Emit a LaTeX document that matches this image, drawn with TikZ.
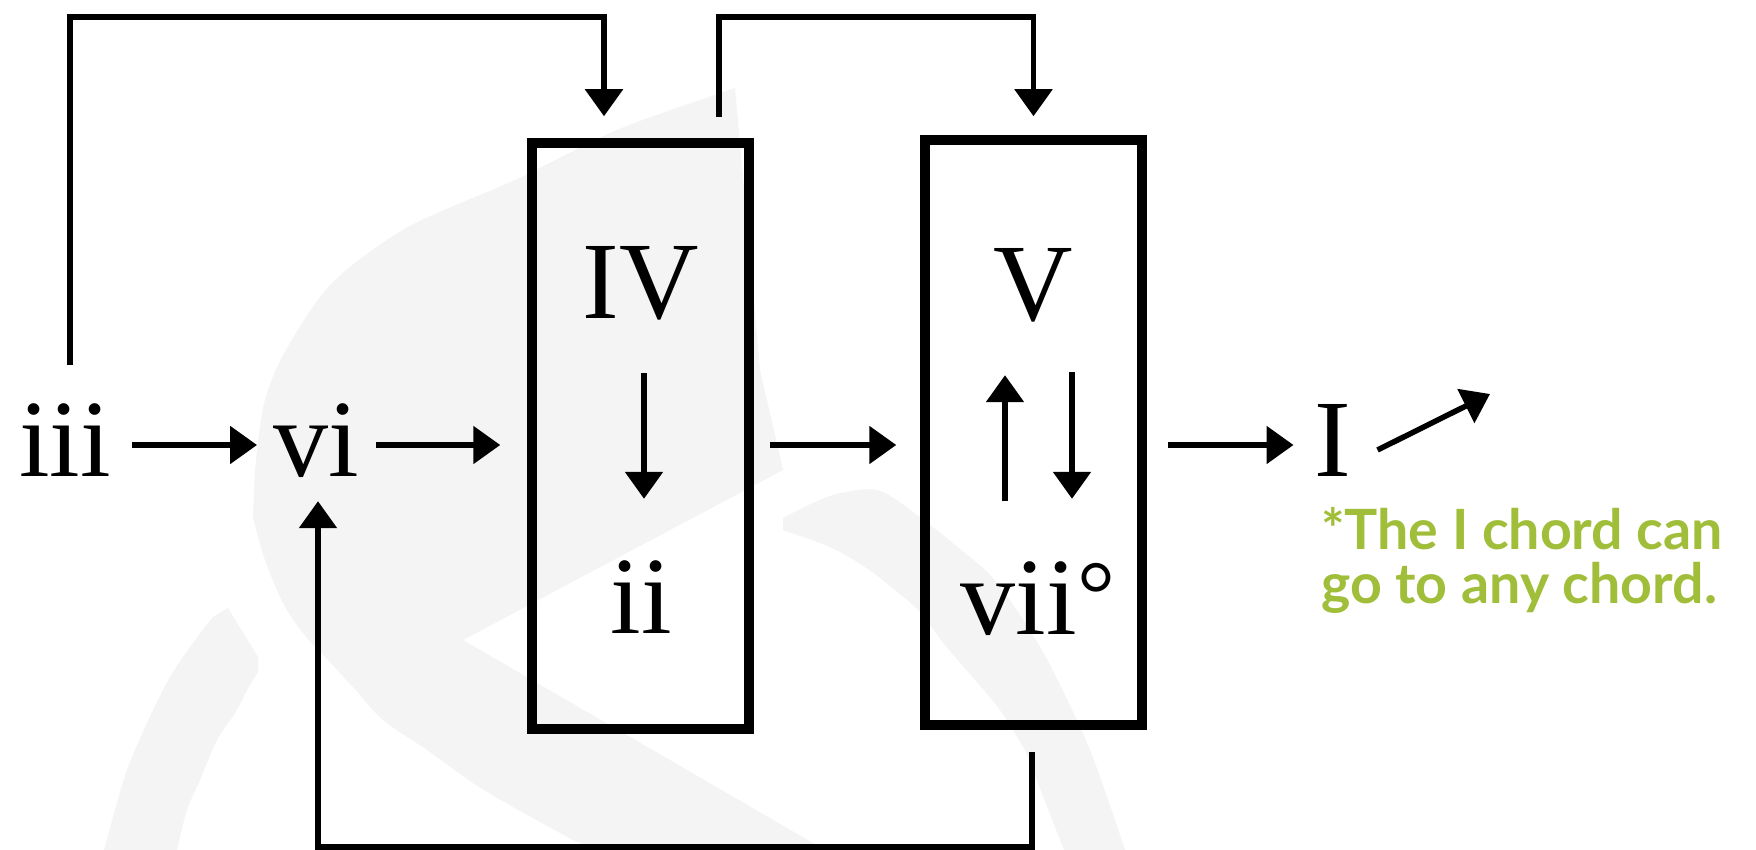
\documentclass[tikz,border=0pt]{standalone}
\usepackage{fontspec}
\setmainfont{Liberation Serif}
\newfontfamily\notefont{Lato}
\usetikzlibrary{arrows.meta}
\definecolor{notegreen}{RGB}{161,190,58}
\definecolor{wmark}{RGB}{244,244,244}
\tikzset{
  chord/.style={inner sep=0pt, text height=62pt, text depth=0pt, font=\fontsize{110}{110}\selectfont},
  chordbox/.style={draw, line width=9.5pt, minimum width=217pt, inner sep=0pt},
  conn/.style={line width=5.5pt, -{Triangle[length=27pt,width=37pt]}},
  note/.style={text=notegreen, align=left, inner sep=0pt, font=\notefont\bfseries\fontsize{55.5}{54}\selectfont}
}

\begin{document}
\begin{tikzpicture}[x=1pt,y=-1pt]
  \fill[white] (0,0) rectangle (1756,850);
  \useasboundingbox (0,0) rectangle (1756,850);

  % faint logo behind the chart
  \fill[wmark] plot[smooth] coordinates {(253,518) (256,460) (265,400) (286,350) (332,283) (408,227) (515,180) (617,130) (709,97) (735,88)}
    -- (745,200) -- (760,370) -- (783,470) -- (463,640) -- (825,850) -- (597,850)
    -- plot[smooth] coordinates {(573,840) (513,807) (473,783) (427,750) (383,720) (353,687) (325,657) (302,632) (283,603) (265,560) (253,518)} -- cycle;
  \fill[wmark] plot[smooth] coordinates {(104,850) (115,810) (127,770) (147,723) (170,677) (193,643) (213,617)}
    -- (228,608) -- (258,657) -- (258,672)
    -- plot[smooth] coordinates {(247,690) (235,713) (217,740) (200,780) (187,810) (177,850)} -- cycle;
  \fill[wmark] plot[smooth] coordinates {(783,518) (830,496) (877,490) (917,515) (955,545) (990,575) (1020,615) (1050,665) (1090,750) (1125,850)}
    -- (1064,850)
    -- plot[smooth] coordinates {(1025,750) (1000,710) (975,680) (945,645) (920,612) (895,590) (865,567) (830,547) (783,530)} -- cycle;

  % chords
  \node[chord] (iii) at (65,445) {iii};
  \node[chord] (vi) at (316,445) {vi};
  \node[chord] (IV) at (641,288) {IV};
  \node[chord] (ii) at (641,602) {ii};
  \node[chord] (V) at (1033,289) {V};
  \node[chord] (vii) at (1038,603) {vii{\fontsize{95}{95}\selectfont\raisebox{8pt}{°}}};
  \node[chord] (I) at (1333,445) {I};
  \node[chordbox, minimum height=586pt] (predom) at (640.5,436) {};
  \node[chordbox, minimum height=585pt] (dom) at (1033.5,432.5) {};
  \node[note, anchor=base west] (anynote) at (1321,603) {*The I chord can\\go to any chord.};

  \coordinate (rail) at (0,17);
  \coordinate (floor) at (0,847);
  \coordinate (anychord) at (1490,394);

  % main line
  \draw[conn, shorten <=21pt, shorten >=16pt] (iii.east) -- (vi.west);
  \draw[conn, shorten <=17pt, shorten >=27pt] (vi.east) -- (vi.east -| predom.west);
  \draw[conn, shorten <=16pt, shorten >=24pt] (vi.east -| predom.east) -- (vi.east -| dom.west);
  \draw[conn, shorten <=21pt, shorten >=21pt] (vi.east -| dom.east) -- (I.west);
  \draw[conn] ([xshift=26pt,yshift=-5pt]I.east) -- (anychord);

  % inside the boxes
  \draw[conn] ([xshift=3pt,yshift=-54pt]IV.south) -- ([xshift=3pt,yshift=72pt]ii.north);
  \draw[conn] ([xshift=-33pt,yshift=71pt]vii.north) -- ([xshift=-28pt,yshift=-55pt]V.south);
  \draw[conn] ([xshift=39pt,yshift=-52pt]V.south) -- ([xshift=34pt,yshift=73pt]vii.north);

  % loops
  \coordinate (iiiup) at ([xshift=5pt,yshift=49pt]iii.north);
  \coordinate (predomin) at ([xshift=-36.5pt,yshift=22pt]predom.north);
  \coordinate (predomout) at ([xshift=78.5pt,yshift=21pt]predom.north);
  \coordinate (domin) at ([yshift=19pt]dom.north);
  \coordinate (domout) at ([xshift=-1.5pt,yshift=-22pt]dom.south);
  \coordinate (viin) at ([xshift=2pt,yshift=-25pt]vi.south);
  \draw[conn] (iiiup) |- (rail -| predomin) -- (predomin);
  \draw[conn] (predomout) |- (rail -| domin) -- (domin);
  \draw[conn] (domout) |- (floor -| viin) -- (viin);
\end{tikzpicture}
\end{document}
